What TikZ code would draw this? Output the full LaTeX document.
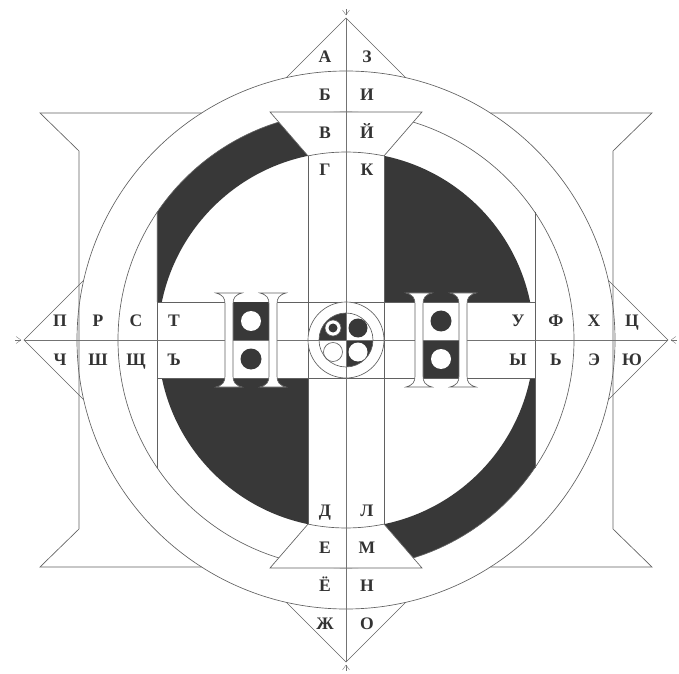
\documentclass[tikz,border=0pt]{standalone}
\usepackage{fontspec}
\setmainfont{Liberation Serif}

\begin{document}
\begin{tikzpicture}[
    x=0.04cm, y=0.04cm,
    rule/.style={draw=black!62, line width=0.75pt},
    axisline/.style={draw=black!55, line width=0.6pt},
    dark/.style={fill=black!78},
    whitebox/.style={rule, fill=white},
    letter/.style={font=\fontsize{20}{24}\selectfont\bfseries, text=black!80,
                   inner sep=0pt, anchor=base}
]
\useasboundingbox (-346,-333) rectangle (333,340);

\foreach \sx/\sy in {1/1,-1/-1} {
  \begin{scope}
    \clip ({\sx*38},{\sy*38}) rectangle ({\sx*189},{\sy*230});
    \fill[dark] (0,0) circle[radius=188];
  \end{scope}
}
\foreach \sx/\sy in {-1/1,1/-1} {
  \begin{scope}
    \clip ({\sx*38},{\sy*38}) rectangle ({\sx*189},{\sy*230});
    \fill[dark, even odd rule] (0,0) circle[radius=228] (0,0) circle[radius=188];
  \end{scope}
}

\draw[rule] (0,0) circle[radius=269];
\draw[rule] (0,0) circle[radius=228];
\foreach \sx in {-1,1} {
  \draw[rule] ({\sx*189},-127.5) -- ({\sx*189},127.5);
  \draw[rule] ({\sx*144.3},227) -- ({\sx*306},227) -- ({\sx*267},189)
    -- ({\sx*267},-189) -- ({\sx*306},-227) -- ({\sx*144.3},-227);
}
\foreach \a in {0,90,180,270} {
  \begin{scope}[rotate=\a]
    \draw[rule] (262.3,59.7) -- (322,0) -- (262.3,-59.7);
  \end{scope}
}

\draw[rule] (-189,38) -- (189,38) (-189,-38) -- (189,-38);
\draw[rule] (-38,-184.1) -- (-38,184.1) (38,-184.1) -- (38,184.1);
\foreach \sy in {1,-1} {
  \draw[whitebox] (-76,{\sy*228}) -- (76,{\sy*228}) -- (38,{\sy*184.1})
    arc[start angle={\sy*78.34}, end angle={\sy*101.66}, radius=188] -- cycle;
}

\fill[dark] (-113,0) rectangle (-77,38);
\fill[dark] (77,-38) rectangle (113,0);
\fill[white] (-95,19) circle[radius=10];
\fill[dark] (-95,-19) circle[radius=10.5];
\fill[dark] (95,19) circle[radius=10.5];
\fill[white] (95,-19) circle[radius=10];

\draw[whitebox] (0,0) circle[radius=38];
\fill[dark] (0,0) -- (-27,0) arc[start angle=180, end angle=90, radius=27] -- cycle;
\fill[dark] (0,0) -- (27,0) arc[start angle=0, end angle=-90, radius=27] -- cycle;
\draw[rule] (0,0) circle[radius=27];
\draw[whitebox] (-13,12) circle[radius=8];
\fill[dark] (-13,12) circle[radius=4.5];
\fill[dark] (12,12) circle[radius=9.5];
\draw[rule] (-13,-12) circle[radius=9.5];
\fill[white] (12,-12) circle[radius=9.5];

\draw[axisline] (0,-322) -- (0,322) (-322,0) -- (322,0);
\foreach \a in {0,90,180,270} {
  \foreach \d in {-35,0,35} {
    \draw[axisline, line width=0.4pt] (\a:325) -- ++({\a+\d}:6);
  }
}

\foreach \c in {-117,-73,73,117} {
  \begin{scope}[shift={(\c,0)}]
    \draw[whitebox] (-13,47) -- (13,47) .. controls (6,45) and (4,42) .. (4,36)
      -- (4,-36) .. controls (4,-42) and (6,-45) .. (13,-47) -- (-13,-47)
      .. controls (-6,-45) and (-4,-42) .. (-4,-36) -- (-4,36)
      .. controls (-4,42) and (-6,45) .. (-13,47) -- cycle;
  \end{scope}
}

\foreach \l/\r [count=\i] in {А/З,Б/И,В/Й,Г/К} {
  \node[letter] (tl\i) at (-21,{315-37.7*\i}) {\l};
  \node[letter] (tr\i) at (21,{315-37.7*\i}) {\r};
}
\foreach \l/\r [count=\i] in {Д/Л,Е/М,Ё/Н,Ж/О} {
  \node[letter] (bl\i) at (-21,{-138.5-37.7*\i}) {\l};
  \node[letter] (br\i) at (21,{-138.5-37.7*\i}) {\r};
}
\foreach \u/\d [count=\i] in {П/Ч,Р/Ш,С/Щ,Т/Ъ} {
  \node[letter] (lu\i) at ({-324+38*\i},13.5) {\u};
  \node[letter] (ld\i) at ({-324+38*\i},-25.5) {\d};
}
\foreach \u/\d [count=\i] in {У/Ы,Ф/Ь,Х/Э,Ц/Ю} {
  \node[letter] (ru\i) at ({134+38*\i},13.5) {\u};
  \node[letter] (rd\i) at ({134+38*\i},-25.5) {\d};
}
\end{tikzpicture}
\end{document}
